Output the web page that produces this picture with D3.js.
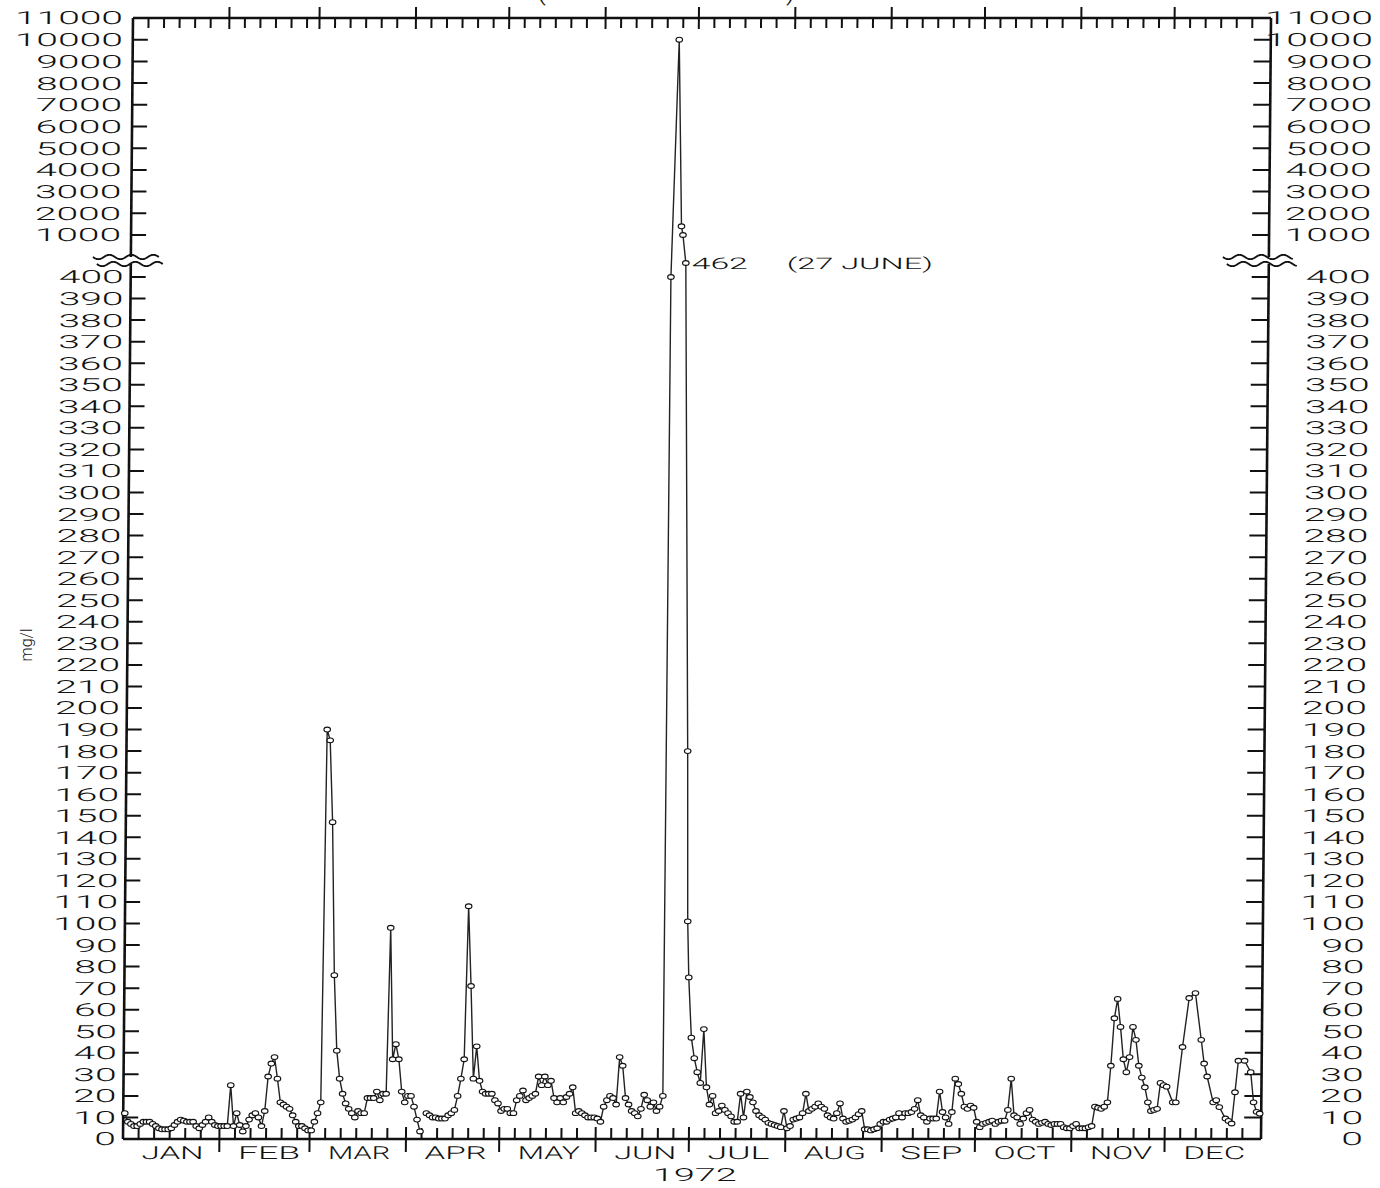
<!DOCTYPE html>
<html>
<head>
<meta charset="utf-8">
<script src="https://cdn.jsdelivr.net/npm/d3@7"></script>
<style>
  body { margin: 0; background: #fff; }
  text { font-family: Roboto, "Liberation Sans", Arial, sans-serif; font-weight: 300; fill: #111; }
</style>
</head>
<body>
<svg id="chart" width="1380" height="1188"></svg>
<script>
// daily values, mg/l (null = no sample that day)
var monthNames = ["JAN", "FEB", "MAR", "APR", "MAY", "JUN", "JUL", "AUG", "SEP", "OCT", "NOV", "DEC"];
var janValues = [12, 8, 7, 6, 6, 7, 8, 8, 8, 7, 6, 5, 4.5, 4.5, 4.5, 5, 6.5, 8, 9, 8.5, 8, 8, 8, 6, 5, 6.5, 8, 10, 8, 6.5, 6];
var febValues = [6, 6, 6, 25, 6, 12, 6.5, 3.5, 6, 9, 11, 12, 10, 6, 13, 29, 35, 38, 28, 17, 16, 15, 14, 11, 8, 6, 6, 5, 4];
var marValues = [4, 8, 12, 17, 190, 185, 147, 76, 41, 28, 21, 16.5, 14, 12, 10, 13, 12, 12, 19, 19, 19, 22, 18, 21, 21, 98, 37, 44, 37, 22, 17];
var aprValues = [20, 20, 15, 9, 3.5, null, 12, 11, 10, 10, 9.5, 9.5, 9.5, 11, 12, 13.5, 20, 28, 37, 108, 71, 28, 43, 27, 22, 21, 21, 21, 18, 16.5];
var mayValues = [13, 14, 14, 12, 12, 18, 20, 22.5, 18, 19, 20, 21, 29, 25, 29, 25, 27, 19, 17, 19, 17, 19.5, 21, 24, 12, 13, 12, 11, 10, 10, 10];
var junValues = [9.5, 8, 15, 18, 20, 19, 16, 38, 34, 19, 16, 13, 12, 10.5, 14, 20.5, 18, 15, 17, 13, 15, 20];
var julValues = [47, 37.5, 31, 26, 51, 24, 16, 20, 12, 13, 15.5, 13.5, 12, 10.5, 8, 8, 21, 10, 22, 19.5, 17, 13, 11, 10, 9, 7.5, 7, 6.5, 6, 5.5, 13];
var augValues = [5, 6, 9, 9.5, 10, 12, 21, 13, 14, 15, 16.5, 15, 14, 11, 10, 9.5, 12, 16.5, 9.5, 8, 8.5, 9, 10, 11.5, 13, 4.5, 4.5, 4, 4.5, 5, 7];
var sepValues = [8, 8, 9, 9.5, 10, 12, 10, 12, 12, 12.5, 14, 18, 11, 10, 8, 9.5, 9.5, 9.5, 22, 12.5, 10, 7, 12.5, 28, 25.5, 21, 15, 14, 15.5, 14.5];
var octValues = [8, 5.5, 7, 7.5, 8, 8.5, 7, 8, 8.5, 8.5, 13.5, 28, 11, 10, 7, 9.5, 12, 13.5, 9, 8, 7, 7.5, 8, 7, 6.5, 7, 7, 7, 5.5, 5, 5];
var novValues = [6, 7, 5, 5, 5, 5.5, 6, 15, 14.5, 14, 15, 17, 34, 56, 65, 52, 37, 31, 38, 52, 46, 34, 28.5, 24, 17, 13, 13.5, 14, 26, 25];
var decValues = [24.3, null, 17, 17, null, 42.7, null, 65.4, null, 67.7, null, 46, 35, 29, null, 17, 18, 14.8, null, 9.5, 8.4, 7.2, 21.7, 36.3, null, 36.3, null, 31, 17, 12.6, 11.8];

// Agnes flood, several samples a day
var stormTimes = ["1972-06-22 18:00", "1972-06-24 18:00", "1972-06-26 00:00", "1972-06-26 12:00",
                  "1972-06-27 12:00", "1972-06-29 12:00", "1972-06-30 00:00", "1972-06-30 12:00"];
var stormValues = [400, 10000, 1400, 1000, 462, 180, 101, 75];

var gapDays = ["1972-04-06"];

var lowerTicks = d3.range(0, 401, 10);
var upperTicks = [1000, 2000, 3000, 4000, 5000, 6000, 7000, 8000, 9000, 10000, 11000];

var parseTime = d3.timeParse("%Y-%m-%d %H:%M");
var dayKey = d3.timeFormat("%Y-%m-%d");

var monthly = [janValues, febValues, marValues, aprValues, mayValues, junValues,
               julValues, augValues, sepValues, octValues, novValues, decValues];
var series = [];
monthly.forEach(function(vals, m) {
  vals.forEach(function(v, i) {
    var date = new Date(1972, m, i + 1, 12);
    if (gapDays.indexOf(dayKey(date)) >= 0) series.push({ date: date, v: null });
    else if (v != null) series.push({ date: date, v: v });
  });
});
stormTimes.forEach(function(t, i) {
  series.push({ date: parseTime(t), v: stormValues[i] });
});
series.sort(function(a, b) { return a.date - b.date; });

// plot area; the scan is slightly sheared, so the frame is skewed
var W = 1138, H = 1121;
var skew = -Math.atan(10 / H) * 180 / Math.PI;

var svg = d3.select("#chart");

// bottom of a cut-off title line
svg.append("text").attr("x", 541).attr("y", -1).attr("font-size", 30).attr("text-anchor", "middle").text("(");
svg.append("text").attr("x", 791).attr("y", -1).attr("font-size", 30).attr("text-anchor", "middle").text(")");

var g = svg.append("g")
  .attr("transform", "translate(133,18) skewX(" + skew + ")");

var x = d3.scaleTime()
  .domain([new Date(1972, 0, 1), new Date(1973, 0, 1)])
  .range([0, W]);

// broken axis: 0-400 below, 1000-11000 above, 462 sits in the break
var y = d3.scaleLinear()
  .domain([0, 400, 462, 1000, 11000])
  .range([H, 259, 245, 217, 0]);

var breakTop = 239, breakBottom = 246;

// frame
var frame = g.append("g").attr("stroke", "#111").attr("stroke-width", 2.6).attr("fill", "none");
frame.append("line").attr("x1", 0).attr("x2", W).attr("y1", 0).attr("y2", 0);
frame.append("line").attr("x1", 0).attr("x2", W).attr("y1", H).attr("y2", H);
[0, W].forEach(function(xx) {
  frame.append("line").attr("x1", xx).attr("x2", xx).attr("y1", 0).attr("y2", breakTop);
  frame.append("line").attr("x1", xx).attr("x2", xx).attr("y1", breakBottom).attr("y2", H);
});

// break squiggles
function squiggle(x0, x1, yc) {
  var pts = d3.range(x0, x1 + 0.1, 1).map(function(px) {
    return [px, yc + 2.2 * Math.sin((px - x0) / 11 * Math.PI)];
  });
  return d3.line()(pts);
}
[[-38, 28], [W - 46, W + 24]].forEach(function(r) {
  g.append("path").attr("d", squiggle(r[0], r[1], breakTop)).attr("fill", "none").attr("stroke", "#111").attr("stroke-width", 1.8);
  g.append("path").attr("d", squiggle(r[0] + 4, r[1] + 4, breakBottom)).attr("fill", "none").attr("stroke", "#111").attr("stroke-width", 1.8);
});

// y ticks
var tickG = g.append("g").attr("stroke", "#111").attr("stroke-width", 2);
lowerTicks.concat(upperTicks.filter(function(t) { return t < 11000; })).forEach(function(t) {
  tickG.append("line").attr("x1", 0).attr("x2", 15).attr("y1", y(t)).attr("y2", y(t));
  tickG.append("line").attr("x1", W - 17).attr("x2", W).attr("y1", y(t)).attr("y2", y(t));
});

// y labels
var digitW = 21.6;
function axisLabel(sel, t, xx, size) {
  var s = String(t);
  sel.append("text")
    .attr("x", xx)
    .attr("y", y(t))
    .attr("dy", "0.36em")
    .attr("text-anchor", "end")
    .attr("font-size", size)
    .attr("textLength", s.length * digitW)
    .attr("lengthAdjust", "spacingAndGlyphs")
    .text(s);
}
var labG = g.append("g");
lowerTicks.forEach(function(t) {
  axisLabel(labG, t, -7, 18);
  axisLabel(labG, t, W + 102, 18);
});
upperTicks.forEach(function(t) {
  axisLabel(labG, t, -10, 18);
  axisLabel(labG, t, W + 102, 18);
});

// x ticks: month boundaries cross the frame, minor ticks every 5 days
var months = d3.timeMonth.range(new Date(1972, 1, 1), new Date(1973, 0, 1));
var minor = [];
d3.timeMonth.range(new Date(1972, 0, 1), new Date(1973, 0, 1)).forEach(function(m) {
  [5, 10, 15, 20, 25].forEach(function(k) { minor.push(d3.timeDay.offset(m, k)); });
});
minor.forEach(function(d) {
  tickG.append("line").attr("x1", x(d)).attr("x2", x(d)).attr("y1", H - 11).attr("y2", H);
  tickG.append("line").attr("x1", x(d)).attr("x2", x(d)).attr("y1", 0).attr("y2", 10);
});
months.forEach(function(d) {
  tickG.append("line").attr("x1", x(d)).attr("x2", x(d)).attr("y1", H - 12).attr("y2", H + 13);
  tickG.append("line").attr("x1", x(d)).attr("x2", x(d)).attr("y1", -11).attr("y2", 11);
});

// month names
d3.timeMonth.range(new Date(1972, 0, 1), new Date(1973, 0, 1)).forEach(function(m, i) {
  g.append("text")
    .attr("x", x(d3.timeDay.offset(m, 16)))
    .attr("y", H + 20)
    .attr("text-anchor", "middle")
    .attr("font-size", 18)
    .attr("textLength", 62)
    .attr("lengthAdjust", "spacingAndGlyphs")
    .text(monthNames[i]);
});
g.append("text")
  .attr("x", x(new Date(1972, 6, 3)))
  .attr("y", H + 42)
  .attr("text-anchor", "middle")
  .attr("font-size", 18)
  .attr("textLength", 84)
  .attr("lengthAdjust", "spacingAndGlyphs")
  .text("1972");

// data line and sample circles
var line = d3.line()
  .defined(function(d) { return d.v != null; })
  .x(function(d) { return x(d.date); })
  .y(function(d) { return y(d.v); });

g.append("path")
  .datum(series)
  .attr("d", line)
  .attr("fill", "none")
  .attr("stroke", "#222")
  .attr("stroke-width", 1.4);

g.append("g").selectAll("ellipse")
  .data(series.filter(function(d) { return d.v != null; }))
  .enter().append("ellipse")
  .attr("cx", function(d) { return x(d.date); })
  .attr("cy", function(d) { return y(d.v); })
  .attr("rx", 3.3)
  .attr("ry", 2.4)
  .attr("fill", "#fff")
  .attr("stroke", "#111")
  .attr("stroke-width", 1.1);

// annotation for the off-scale point
var peakDate = parseTime("1972-06-27 12:00");
g.append("text")
  .attr("x", x(peakDate) + 6)
  .attr("y", y(462))
  .attr("dy", "0.36em")
  .attr("font-size", 16)
  .attr("textLength", 56)
  .attr("lengthAdjust", "spacingAndGlyphs")
  .text("462");
g.append("text")
  .attr("x", x(peakDate) + 101)
  .attr("y", y(462))
  .attr("dy", "0.36em")
  .attr("font-size", 16)
  .attr("textLength", 146)
  .attr("lengthAdjust", "spacingAndGlyphs")
  .text("(27 JUNE)");

// y axis title
svg.append("text")
  .attr("transform", "translate(32,645) rotate(-90)")
  .attr("text-anchor", "middle")
  .attr("font-size", 16)
  .text("mg/l");
</script>
</body>
</html>
